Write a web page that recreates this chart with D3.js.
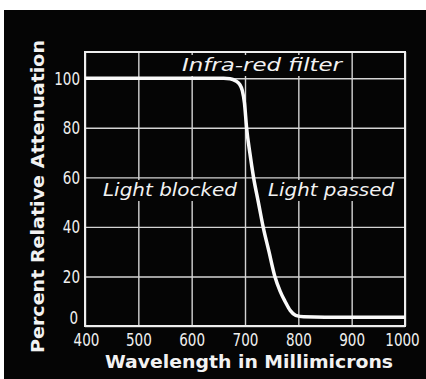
<!DOCTYPE html>
<html>
<head>
<meta charset="utf-8">
<script src="https://cdn.jsdelivr.net/npm/d3@7"></script>
<style>
  html, body { margin: 0; padding: 0; background: #fff; }
  svg { display: block; }
</style>
</head>
<body>
<script>
// ---- data ----
const wavelength = [400, 500, 600, 660, 672, 682, 690, 695, 699, 703, 709, 716, 725, 734, 745, 756, 766, 775, 785, 795, 810, 850, 900, 1000];
const attenuation = [100, 100, 100, 100, 99.8, 99, 97.5, 95, 90, 80, 70, 60, 50, 40, 30, 20, 14, 10, 6.2, 4.3, 3.7, 3.5, 3.5, 3.5];
const xTicks = [400, 500, 600, 700, 800, 900, 1000];
const yTicks = [0, 20, 40, 60, 80, 100];
const xTitle = "Wavelength in Millimicrons";
const yTitle = "Percent Relative Attenuation";
const noteTexts = ["Infra-red filter", "Light blocked", "Light passed"];

const W = 426, H = 379;
const m = { left: 85, right: 405, top: 52, bottom: 326 };

const svg = d3.select("body").append("svg").attr("width", W).attr("height", H);

// black card
svg.append("rect").attr("x", 4).attr("y", 10).attr("width", W - 4).attr("height", H - 10)
  .attr("fill", "#050505");

const x = d3.scaleLinear().domain([400, 1000]).range([m.left, m.right]);
const y = d3.scaleLinear().domain([0, 110.6]).range([m.bottom, m.top]);

const g = svg.append("g");
const gridCol = "#d4d4d4";

// grid via axes
g.append("g").attr("transform", `translate(0,${m.bottom})`)
  .call(d3.axisBottom(x).tickValues(xTicks).tickSize(-(m.bottom - m.top)).tickFormat(""))
  .call(s => s.select(".domain").remove())
  .call(s => s.selectAll("line").attr("stroke", gridCol).attr("stroke-width", 1.4));
g.append("g").attr("transform", `translate(${m.left},0)`)
  .call(d3.axisLeft(y).tickValues(yTicks).tickSize(-(m.right - m.left)).tickFormat(""))
  .call(s => s.select(".domain").remove())
  .call(s => s.selectAll("line").attr("stroke", gridCol).attr("stroke-width", 1.4));

// frame
g.append("rect").attr("x", m.left).attr("y", m.top)
  .attr("width", m.right - m.left).attr("height", m.bottom - m.top)
  .attr("fill", "none").attr("stroke", "#eee").attr("stroke-width", 2);

// annotation labels with black backing
const noteFont = "'DejaVu Sans', sans-serif";
const noteData = [
  { text: noteTexts[0], cx: 262, cy: 65, len: 160 },
  { text: noteTexts[1], cx: 170, cy: 190, len: 134 },
  { text: noteTexts[2], cx: 331, cy: 190, len: 126 }
];
noteData.forEach(n => {
  g.append("rect").attr("x", n.cx - n.len / 2 - 3).attr("y", n.cy - 10)
    .attr("width", n.len + 6).attr("height", 21).attr("fill", "#050505");
  g.append("text").attr("x", n.cx - n.len / 2).attr("y", n.cy + 6)
    .attr("textLength", n.len).attr("lengthAdjust", "spacingAndGlyphs")
    .attr("fill", "#f2f2f2").attr("font-family", noteFont).attr("font-style", "italic")
    .attr("font-size", 17).text(n.text);
});

// curve
const line = d3.line().x((d, i) => x(wavelength[i])).y((d, i) => y(attenuation[i]))
  .curve(d3.curveMonotoneX);
g.append("path").datum(attenuation).attr("d", line)
  .attr("fill", "none").attr("stroke", "#fafafa").attr("stroke-width", 3.5)
  .attr("stroke-linejoin", "round");

// tick labels (narrow, tall digits)
const tickFont = "'DejaVu Sans Condensed', 'DejaVu Sans', sans-serif";
const digitW = 8.6;
const xa = g.append("g").attr("transform", `translate(0,${m.bottom})`)
  .call(d3.axisBottom(x).tickValues(xTicks).tickSize(0).tickPadding(7).tickFormat(d3.format("d")));
xa.select(".domain").remove();
xa.selectAll("text").attr("fill", "#f0f0f0").attr("font-family", tickFont)
  .attr("font-size", 18).attr("dy", "0.74em")
  .attr("textLength", d => String(d).length * digitW).attr("lengthAdjust", "spacingAndGlyphs");
xa.selectAll("text").filter(d => d === 400).attr("dx", 1);
xa.selectAll("text").filter(d => d === 1000).attr("dx", -3);

const ya = g.append("g").attr("transform", `translate(${m.left},0)`)
  .call(d3.axisLeft(y).tickValues(yTicks).tickSize(0).tickPadding(5).tickFormat(d3.format("d")));
ya.select(".domain").remove();
ya.selectAll("text").attr("fill", "#f0f0f0").attr("font-family", tickFont)
  .attr("font-size", 18)
  .attr("textLength", d => String(d).length * digitW).attr("lengthAdjust", "spacingAndGlyphs");
ya.selectAll("text").filter(d => d === 0).attr("dy", "-0.13em").attr("x", -7);

// axis titles
svg.append("text").attr("x", 105).attr("y", 368)
  .attr("textLength", 288).attr("lengthAdjust", "spacingAndGlyphs")
  .attr("fill", "#f2f2f2").attr("font-family", "'DejaVu Sans', sans-serif")
  .attr("font-size", 17).attr("font-weight", "bold").text(xTitle);

svg.append("text")
  .attr("transform", `translate(44,353) rotate(-90)`)
  .attr("textLength", 313).attr("lengthAdjust", "spacingAndGlyphs")
  .attr("fill", "#f2f2f2").attr("font-family", "'DejaVu Sans', sans-serif")
  .attr("font-size", 17).attr("font-weight", "bold").text(yTitle);
</script>
</body>
</html>
